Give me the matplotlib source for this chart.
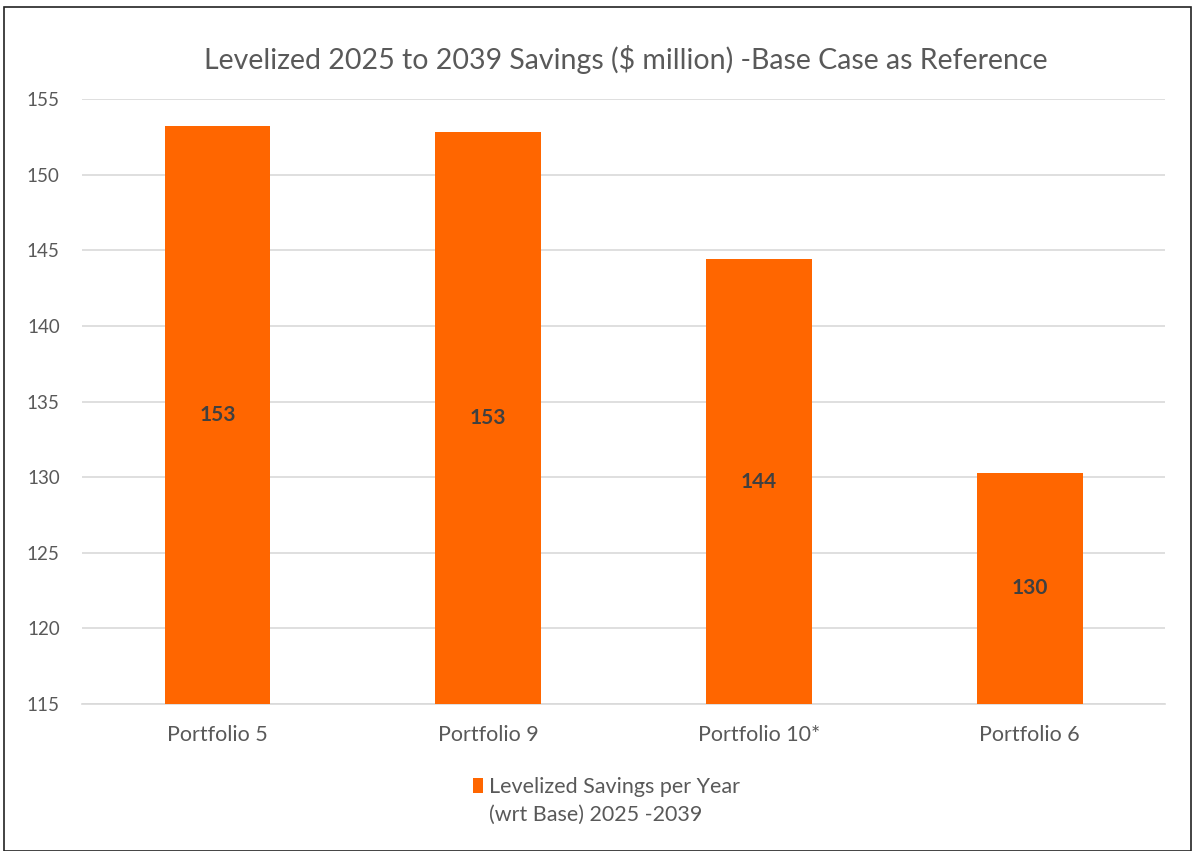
import matplotlib.pyplot as plt
from matplotlib.patches import Rectangle

# --- data ---
portfolios = ["Portfolio 5", "Portfolio 9", "Portfolio 10*", "Portfolio 6"]
savings = [153.2, 152.8, 144.4, 130.3]
bar_labels = ["153", "153", "144", "130"]
series_name = "Levelized Savings per Year"
series_name_2 = "(wrt Base) 2025 -2039"

orange = "#FF6600"
text_gray = "#595959"
grid_gray = "#D9D9D9"

plt.rcParams["font.family"] = ["Lato", "DejaVu Sans"]

fig = plt.figure(figsize=(11.95, 8.51), dpi=100)
ax = fig.add_axes([0.0686, 0.1727, 0.9064, 0.711])

x = range(len(portfolios))
bars = ax.bar(x, savings, width=0.39, color=orange, label=series_name, zorder=3)

# values sit in the middle of each bar
for rect, lab in zip(bars, bar_labels):
    mid = (115 + rect.get_height()) / 2
    ax.text(rect.get_x() + rect.get_width() / 2, mid, lab, ha="center", va="center",
            fontsize=15, fontweight="bold", color="#404040", zorder=4)

ax.set_ylim(115, 155)
ax.set_xlim(-0.5, 3.5)
ax.set_yticks(range(115, 156, 5))
ax.set_xticks(list(x))
ax.set_xticklabels(portfolios)
ax.tick_params(axis="y", length=0, pad=16, labelsize=13.5, labelcolor=text_gray)
ax.tick_params(axis="x", length=0, pad=15, labelsize=15.5, labelcolor=text_gray)
ax.yaxis.grid(True, color=grid_gray, linewidth=1.2, zorder=0)
for side in ["top", "right", "left"]:
    ax.spines[side].set_visible(False)
ax.spines["bottom"].set_color(grid_gray)
ax.spines["bottom"].set_linewidth(1.2)

fig.text(0.524, 0.93, "Levelized 2025 to 2039 Savings ($ million) -Base Case as Reference",
         ha="center", va="center", fontsize=20.5, color=text_gray)

# legend: marker sits next to the first line, the label wraps onto a second line
leg = fig.legend(loc="center left", bbox_to_anchor=(0.3795, 0.075), frameon=False,
                 labelcolor=text_gray, handlelength=0.45, handleheight=0.7,
                 handletextpad=0.3, prop={"size": 15.5})
fig.text(0.409, 0.042, series_name_2, ha="left", va="center", fontsize=15.5,
         color=text_gray)

# thin frame around the whole chart
fig.patches.append(Rectangle((0.003, 0.0), 0.994, 0.992, transform=fig.transFigure,
                             fill=False, edgecolor="#222222", linewidth=1.2))

fig.savefig("out.png", dpi=100)
